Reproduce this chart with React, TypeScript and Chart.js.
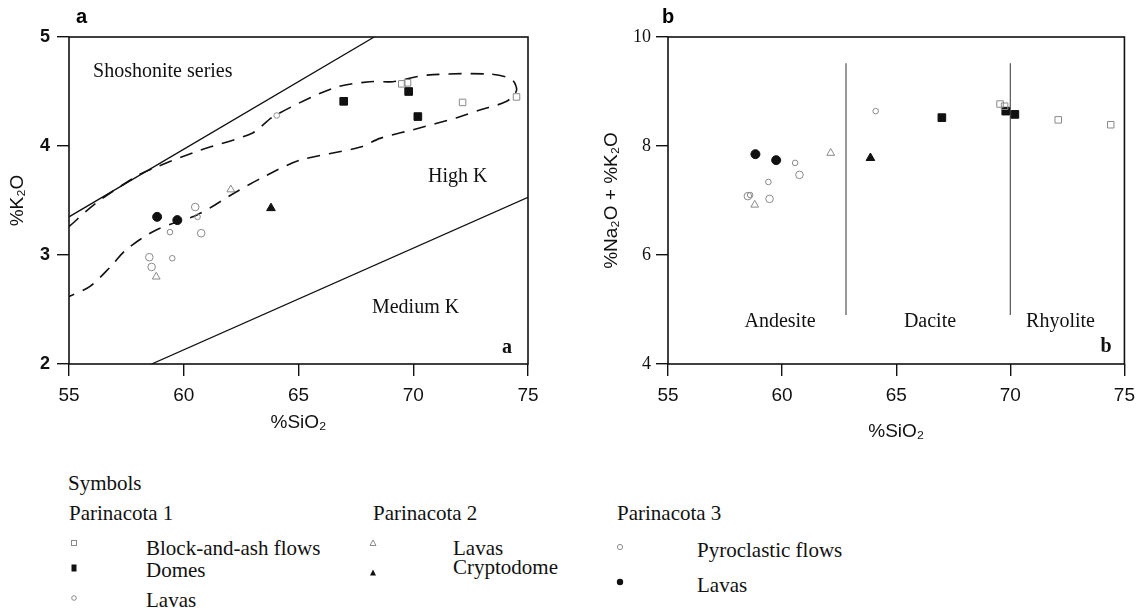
import React, { useEffect, useRef } from "react";
import { Chart, registerables } from "chart.js";
Chart.register(...registerables);

type P = { x: number; y: number };

// ---------- shared ----------
const xTicks = [55, 60, 65, 70, 75];

// ---------- Panel a : %K2O vs %SiO2 ----------
const yTicksA = [2, 3, 4, 5];
const p1BlockAshA: P[] = [{ x: 69.5, y: 4.57 }, { x: 69.75, y: 4.58 }, { x: 72.15, y: 4.4 }, { x: 74.5, y: 4.45 }];
const p1DomesA: P[] = [{ x: 66.97, y: 4.41 }, { x: 69.8, y: 4.5 }, { x: 70.2, y: 4.27 }];
const p1LavasA: P[] = [{ x: 64.05, y: 4.28 }, { x: 60.6, y: 3.35 }, { x: 59.4, y: 3.21 }, { x: 59.5, y: 2.97 }];
const p2LavasA: P[] = [{ x: 62.05, y: 3.6 }, { x: 58.8, y: 2.8 }];
const p2CryptoA: P[] = [{ x: 63.8, y: 3.43 }];
const p3PyroA: P[] = [{ x: 60.5, y: 3.44 }, { x: 60.76, y: 3.2 }, { x: 58.5, y: 2.98 }, { x: 58.6, y: 2.89 }];
const p3LavasA: P[] = [{ x: 58.84, y: 3.35 }, { x: 59.72, y: 3.32 }];
const shoshoniteBoundaryA: P[] = [{ x: 55, y: 3.35 }, { x: 68.3, y: 5 }];
const highKBoundaryA: P[] = [{ x: 58.6, y: 2 }, { x: 75, y: 3.53 }];
const envelopeA: P[] = [
  { x: 55, y: 3.26 }, { x: 56.2, y: 3.48 }, { x: 58.0, y: 3.73 }, { x: 58.83, y: 3.81 },
  { x: 60.7, y: 3.96 }, { x: 63.0, y: 4.12 }, { x: 63.9, y: 4.27 }, { x: 66.5, y: 4.53 },
  { x: 68.1, y: 4.59 }, { x: 69.1, y: 4.59 }, { x: 70.6, y: 4.65 }, { x: 73.3, y: 4.66 },
  { x: 74.29, y: 4.61 }, { x: 74.5, y: 4.51 }, { x: 74.07, y: 4.41 }, { x: 72.9, y: 4.33 },
  { x: 71.9, y: 4.26 }, { x: 70.0, y: 4.15 }, { x: 68.55, y: 4.07 }, { x: 67.7, y: 3.99 },
  { x: 65.07, y: 3.87 }, { x: 63.6, y: 3.73 }, { x: 62.3, y: 3.58 }, { x: 60.6, y: 3.37 },
  { x: 58.8, y: 3.23 }, { x: 57.5, y: 3.05 }, { x: 56.8, y: 2.89 }, { x: 55.9, y: 2.71 },
  { x: 55, y: 2.62 },
];

// ---------- Panel b : %Na2O + %K2O vs %SiO2 ----------
const yTicksB = [4, 6, 8, 10];
const p1BlockAshB: P[] = [{ x: 69.55, y: 8.77 }, { x: 69.75, y: 8.73 }, { x: 72.1, y: 8.48 }, { x: 74.4, y: 8.39 }];
const p1DomesB: P[] = [{ x: 67.0, y: 8.52 }, { x: 69.8, y: 8.64 }, { x: 70.2, y: 8.58 }];
const p1LavasB: P[] = [{ x: 64.1, y: 8.64 }, { x: 60.57, y: 7.69 }, { x: 59.4, y: 7.34 }, { x: 58.6, y: 7.1 }];
const p2LavasB: P[] = [{ x: 62.13, y: 7.87 }, { x: 58.8, y: 6.92 }];
const p2CryptoB: P[] = [{ x: 63.87, y: 7.78 }];
const p3PyroB: P[] = [{ x: 60.76, y: 7.47 }, { x: 59.45, y: 7.03 }, { x: 58.5, y: 7.08 }];
const p3LavasB: P[] = [{ x: 58.83, y: 7.85 }, { x: 59.74, y: 7.74 }];
const dividerSiO2 = [62.8, 70];
const dividerRange = [4.9, 9.52];

// ---------- legend ----------
const groupNames = ["Parinacota 1", "Parinacota 2", "Parinacota 3"];
const groupItems = [
  ["Block-and-ash flows", "Domes", "Lavas"],
  ["Lavas", "Cryptodome"],
  ["Pyroclastic flows", "Lavas"],
];

const serif = '"Liberation Serif", "Times New Roman", serif';
const sans = '"Liberation Sans", Arial, Helvetica, sans-serif';
const INK = "#111";
const GREY = "#8a8a8a";

type Lbl = { text: string; x: number; y: number; font: string; align: CanvasTextAlign };

function makeDecor(labels: Lbl[]) {
  return {
    id: "decor",
    afterDraw(chart: any) {
      const { ctx, chartArea, scales } = chart;
      const { left, top, right, bottom } = chartArea;
      ctx.save();
      ctx.strokeStyle = INK;
      ctx.lineWidth = 1.6;
      ctx.strokeRect(left, top, right - left, bottom - top);
      labels.forEach((l) => {
        ctx.font = l.font;
        ctx.fillStyle = INK;
        ctx.textAlign = l.align;
        ctx.textBaseline = "middle";
        ctx.fillText(l.text, scales.x.getPixelForValue(l.x), scales.y.getPixelForValue(l.y));
      });
      ctx.restore();
    },
  };
}

const pts = (label: string, data: P[], style: string, radius: number, filled: boolean) => ({
  label,
  data,
  showLine: false,
  pointStyle: style,
  pointRadius: radius,
  pointBackgroundColor: filled ? INK : "rgba(0,0,0,0)",
  pointBorderColor: filled ? INK : GREY,
  pointBorderWidth: 1,
});

const line = (label: string, data: P[], dash: number[], width: number, color: string, tension = 0) => ({
  label,
  data,
  showLine: true,
  pointRadius: 0,
  borderColor: color,
  borderWidth: width,
  borderDash: dash,
  tension,
  fill: false,
});

function xScale(titlePadBottom: number) {
  return {
    type: "linear",
    min: 55,
    max: 75,
    afterBuildTicks: (s: any) => {
      s.ticks = xTicks.map((v) => ({ value: v }));
    },
    ticks: { font: { family: sans, size: 19 }, color: INK, padding: 8, maxRotation: 0, autoSkip: false },
    grid: { drawOnChartArea: false, drawTicks: true, tickLength: 12, color: INK, lineWidth: 1.4 },
    border: { display: false },
    title: {
      display: true,
      text: "%SiO₂",
      font: { family: sans, size: 19 },
      color: INK,
      padding: { top: 0, bottom: titlePadBottom },
    },
    afterFit: (s: any) => {
      s.height = 86;
    },
  };
}

function yScale(min: number, max: number, ticks: number[], title: string, width: number, titlePadTop: number, tickFont: any, tickPad: number) {
  return {
    type: "linear",
    min,
    max,
    afterBuildTicks: (s: any) => {
      s.ticks = ticks.map((v) => ({ value: v }));
    },
    ticks: { font: tickFont, color: INK, padding: tickPad, autoSkip: false },
    grid: { drawOnChartArea: false, drawTicks: true, tickLength: 12, color: INK, lineWidth: 1.4 },
    border: { display: false },
    title: {
      display: true,
      text: title,
      font: { family: sans, size: 19 },
      color: INK,
      padding: { top: titlePadTop, bottom: 0 },
    },
    afterFit: (s: any) => {
      s.width = width;
    },
  };
}

function PanelA() {
  const ref = useRef<HTMLCanvasElement>(null);
  useEffect(() => {
    const chart = new Chart(ref.current as HTMLCanvasElement, {
      type: "scatter",
      data: {
        datasets: [
          pts("P1 Block-and-ash flows", p1BlockAshA, "rect", 4.6, false),
          pts("P1 Domes", p1DomesA, "rect", 5.4, true),
          pts("P1 Lavas", p1LavasA, "circle", 2.8, false),
          pts("P2 Lavas", p2LavasA, "triangle", 4.5, false),
          pts("P2 Cryptodome", p2CryptoA, "triangle", 5, true),
          pts("P3 Pyroclastic flows", p3PyroA, "circle", 3.8, false),
          pts("P3 Lavas", p3LavasA, "circle", 4.5, true),
          line("envelope", envelopeA, [13, 9], 1.6, INK, 0.3),
          line("shoshonite / high-K", shoshoniteBoundaryA, [], 1.3, INK),
          line("high-K / medium-K", highKBoundaryA, [], 1.3, INK),
        ] as any,
      },
      options: {
        responsive: false,
        animation: false,
        events: [],
        layout: { padding: { top: 37, right: 32, left: 0, bottom: 0 } },
        plugins: { legend: { display: false }, tooltip: { enabled: false } },
        scales: {
          x: xScale(15.6) as any,
          y: yScale(2, 5, yTicksA, "%K₂O", 69, 6.6, { family: sans, size: 18, weight: "bold" }, 7) as any,
        },
      },
      plugins: [
        makeDecor([
          { text: "Shoshonite series", x: 56.05, y: 4.68, font: `20px ${serif}`, align: "left" },
          { text: "High K", x: 70.64, y: 3.72, font: `20px ${serif}`, align: "left" },
          { text: "Medium K", x: 68.2, y: 2.52, font: `20px ${serif}`, align: "left" },
          { text: "a", x: 74.08, y: 2.15, font: `bold 20px ${serif}`, align: "center" },
        ]),
      ],
    });
    return () => chart.destroy();
  }, []);
  return <canvas ref={ref} width={560} height={450} style={{ position: "absolute", left: 0, top: 0 }} />;
}

function PanelB() {
  const ref = useRef<HTMLCanvasElement>(null);
  useEffect(() => {
    const dividerSets = dividerSiO2.map((sx, i) =>
      line("divider " + (i + 1), dividerRange.map((yy) => ({ x: sx, y: yy })), [], 1.2, "#555")
    );
    const chart = new Chart(ref.current as HTMLCanvasElement, {
      type: "scatter",
      data: {
        datasets: [
          pts("P1 Block-and-ash flows", p1BlockAshB, "rect", 4.6, false),
          pts("P1 Domes", p1DomesB, "rect", 5.4, true),
          pts("P1 Lavas", p1LavasB, "circle", 2.8, false),
          pts("P2 Lavas", p2LavasB, "triangle", 4.5, false),
          pts("P2 Cryptodome", p2CryptoB, "triangle", 5, true),
          pts("P3 Pyroclastic flows", p3PyroB, "circle", 3.8, false),
          pts("P3 Lavas", p3LavasB, "circle", 4.5, true),
          ...dividerSets,
        ] as any,
      },
      options: {
        responsive: false,
        animation: false,
        events: [],
        layout: { padding: { top: 37, right: 15, left: 0, bottom: 0 } },
        plugins: { legend: { display: false }, tooltip: { enabled: false } },
        scales: {
          x: xScale(6.6) as any,
          y: yScale(4, 10, yTicksB, "%Na₂O + %K₂O", 108, 40.6, { family: serif, size: 18 }, 5) as any,
        },
      },
      plugins: [
        makeDecor([
          { text: "Andesite", x: 59.91, y: 4.77, font: `20px ${serif}`, align: "center" },
          { text: "Dacite", x: 66.48, y: 4.77, font: `20px ${serif}`, align: "center" },
          { text: "Rhyolite", x: 72.2, y: 4.77, font: `20px ${serif}`, align: "center" },
          { text: "b", x: 74.2, y: 4.31, font: `bold 20px ${serif}`, align: "center" },
        ]),
      ],
    });
    return () => chart.destroy();
  }, []);
  return <canvas ref={ref} width={583} height={450} style={{ position: "absolute", left: 560, top: 0 }} />;
}

const textStyle = (left: number, cy: number, size = 21): React.CSSProperties => ({
  position: "absolute",
  left,
  top: cy - 13,
  height: 26,
  lineHeight: "26px",
  fontFamily: serif,
  fontSize: size,
  color: INK,
  whiteSpace: "nowrap",
});

function Marker({ cx, cy, kind }: { cx: number; cy: number; kind: string }) {
  const s = 14;
  let shape: any = null;
  if (kind === "openSquare") shape = <rect x={4.5} y={4.5} width={5} height={5} fill="none" stroke={GREY} strokeWidth={1} />;
  if (kind === "filledSquare") shape = <rect x={4.5} y={3.5} width={5} height={7} fill={INK} />;
  if (kind === "smallCircle") shape = <circle cx={7} cy={7} r={2.3} fill="none" stroke={GREY} strokeWidth={1} />;
  if (kind === "openCircle") shape = <circle cx={7} cy={7} r={2.6} fill="none" stroke={GREY} strokeWidth={1} />;
  if (kind === "filledCircle") shape = <circle cx={7} cy={7} r={3.2} fill={INK} />;
  if (kind === "openTriangle") shape = <polygon points="7,4 10,9.5 4,9.5" fill="none" stroke={GREY} strokeWidth={1} />;
  if (kind === "filledTriangle") shape = <polygon points="7,3.5 10,9.5 4,9.5" fill={INK} />;
  return (
    <svg width={s} height={s} style={{ position: "absolute", left: cx - 7, top: cy - 7 }}>
      {shape}
    </svg>
  );
}

function Legend() {
  const colX = [69, 373, 617];
  const textX = [146, 453, 697];
  const markX = [74, 373, 620];
  const rowY = [
    [548, 570, 600],
    [548, 567],
    [550, 585],
  ];
  const markY = [
    [543, 568, 598],
    [543, 573],
    [547, 582],
  ];
  const kinds = [
    ["openSquare", "filledSquare", "smallCircle"],
    ["openTriangle", "filledTriangle"],
    ["openCircle", "filledCircle"],
  ];
  return (
    <>
      <div style={textStyle(68, 483)}>Symbols</div>
      {groupNames.map((g, gi) => (
        <React.Fragment key={g}>
          <div style={textStyle(colX[gi], 513)}>{g}</div>
          {groupItems[gi].map((it, ii) => (
            <React.Fragment key={it + ii}>
              <Marker cx={markX[gi]} cy={markY[gi][ii]} kind={kinds[gi][ii]} />
              <div style={textStyle(textX[gi], rowY[gi][ii])}>{it}</div>
            </React.Fragment>
          ))}
        </React.Fragment>
      ))}
    </>
  );
}

export default function App() {
  return (
    <div
      style={{
        position: "absolute",
        left: 0,
        top: 0,
        width: 1143,
        height: 608,
        background: "#fff",
        overflow: "hidden",
      }}
    >
      <PanelA />
      <PanelB />
      <div style={{ position: "absolute", left: 76, top: 3, fontFamily: sans, fontWeight: "bold", fontSize: 20, lineHeight: "26px" }}>a</div>
      <div style={{ position: "absolute", left: 662, top: 3, fontFamily: sans, fontWeight: "bold", fontSize: 20, lineHeight: "26px" }}>b</div>
      <Legend />
    </div>
  );
}
